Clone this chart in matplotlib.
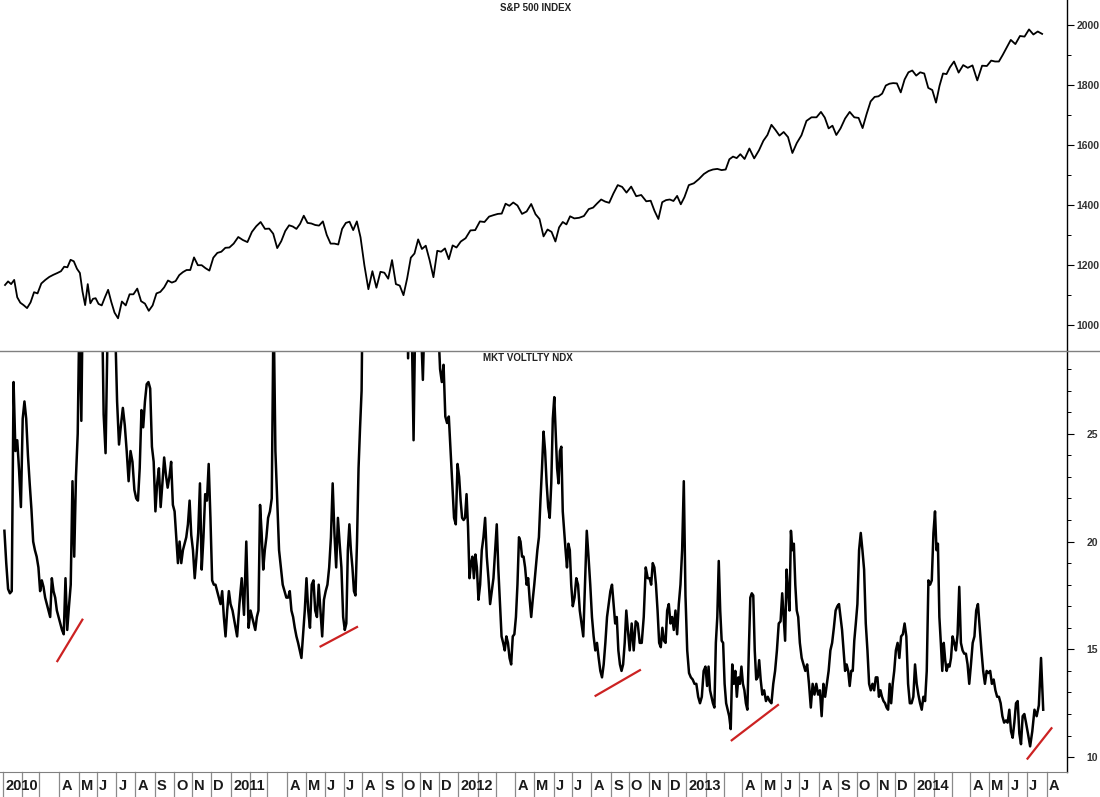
import numpy as np
import matplotlib
matplotlib.use("Agg")
import matplotlib.pyplot as plt
import matplotlib.transforms as mtransforms

# ---- data: one list per calendar month, Jan 2010 .. Jul 2014 ----
# S&P 500, weekly closes (plus a few intraday extremes)
spx_2010 = [[1133, 1145, 1136, 1150, 1092, 1074], [1066, 1056, 1075, 1109, 1105],
            [1138, 1150, 1160, 1167, 1173], [1179, 1194, 1192, 1217, 1212, 1187],
            [1173, 1111, 1066, 1136, 1072, 1087, 1089], [1070, 1065, 1092, 1117, 1076, 1041],
            [1022, 1078, 1065, 1102, 1102], [1121, 1079, 1071, 1047, 1065],
            [1105, 1110, 1125, 1148, 1141], [1146, 1166, 1176, 1183, 1183],
            [1225, 1199, 1199, 1189, 1181], [1224, 1240, 1244, 1257, 1258]]
spx_2011 = [[1271, 1293, 1283, 1276], [1310, 1329, 1343, 1320],
            [1321, 1304, 1256, 1279, 1313], [1332, 1328, 1320, 1337, 1364],
            [1340, 1338, 1333, 1331, 1345], [1300, 1271, 1271, 1268, 1320],
            [1340, 1344, 1316, 1345, 1292], [1199, 1119, 1179, 1124, 1177],
            [1174, 1154, 1216, 1136, 1131], [1099, 1155, 1224, 1238, 1285],
            [1253, 1264, 1216, 1159, 1247], [1244, 1255, 1219, 1265, 1258]]
spx_2012 = [[1278, 1289, 1315, 1316], [1345, 1343, 1361, 1366],
            [1370, 1371, 1404, 1397, 1408], [1398, 1370, 1378, 1403],
            [1369, 1353, 1295, 1318, 1310], [1278, 1325, 1343, 1335, 1362],
            [1355, 1357, 1363, 1386], [1391, 1405, 1418, 1411, 1407],
            [1438, 1466, 1460, 1441], [1461, 1429, 1433, 1412],
            [1414, 1380, 1353, 1409, 1416], [1418, 1413, 1430, 1402, 1426]]
spx_2013 = [[1466, 1472, 1486, 1503], [1513, 1518, 1520, 1516],
            [1518, 1552, 1561, 1556, 1569], [1553, 1588, 1555, 1582],
            [1614, 1633, 1667, 1650, 1631], [1643, 1626, 1573, 1606],
            [1632, 1680, 1692, 1692], [1710, 1691, 1655, 1664, 1633],
            [1655, 1688, 1710, 1692], [1690, 1656, 1703, 1745, 1760],
            [1762, 1771, 1798, 1804, 1806], [1805, 1775, 1818, 1842, 1848]]
spx_2014 = [[1831, 1842, 1838, 1790, 1783], [1741, 1797, 1838, 1836, 1859],
            [1878, 1841, 1866, 1857], [1865, 1815, 1864, 1863],
            [1881, 1878, 1878, 1900, 1924], [1950, 1936, 1963, 1961],
            [1985, 1968, 1978, 1970]]

# Nasdaq-100 volatility, several readings per month
vol_2010 = [[20.5, 19.0, 17.8, 17.6, 17.7, 27.4, 24.2, 24.7, 23.3, 21.6],
            [25.7, 26.5, 25.7, 24.0, 22.7, 21.5, 20.0, 19.6, 19.3, 18.8],
            [17.7, 18.2, 17.9, 17.4, 17.1, 16.8, 16.5, 18.3, 17.7, 17.4, 16.8, 16.5],
            [16.2, 15.9, 15.7, 18.3, 15.9, 17.0, 18.0, 22.8, 19.3, 23.0, 25.0],
            [31.0, 25.6, 33.0, 42.0, 45.0, 40.0, 36.0, 38.0, 34.0, 33.0],
            [33.0, 35.0, 32.0, 25.9, 24.1, 29.5, 32.0, 33.0, 31.0, 30.0],
            [26.5, 24.5, 25.4, 26.2, 25.4, 24.2, 22.8, 24.2, 23.7, 22.4],
            [22.0, 21.9, 23.4, 26.1, 25.3, 26.5, 27.3, 27.4, 27.1, 24.4, 23.7],
            [21.4, 22.7, 23.4, 21.6, 22.7, 23.9, 23.1, 22.5, 23.0, 23.7, 21.7],
            [21.4, 20.2, 19.0, 20.0, 19.0, 19.6, 19.9, 20.2, 20.8, 21.9, 20.3],
            [19.6, 18.3, 19.3, 20.4, 22.7, 18.7, 20.2, 22.2, 21.9, 23.6, 21.1],
            [18.2, 18.0, 18.0, 17.7, 17.4, 17.1, 17.7, 16.5, 15.6, 16.8, 17.7, 17.1]]
vol_2011 = [[16.8, 16.2, 15.6, 17.1, 18.3, 16.6, 20.0, 16.0],
            [16.8, 16.5, 16.2, 15.9, 16.5, 16.8, 21.7, 20.4, 18.7, 19.6, 20.2],
            [21.1, 21.4, 22.0, 31.0, 24.2, 21.9, 19.6, 18.8, 18.0, 17.7, 17.4],
            [17.4, 17.7, 16.8, 16.5, 16.0, 15.6, 15.3, 14.95, 14.6, 15.7, 16.8],
            [18.3, 16.8, 16.0, 18.0, 18.2, 16.8, 16.5, 18.0, 16.8, 15.6, 17.3],
            [17.7, 18.0, 18.8, 20.2, 22.7, 20.4, 18.8, 21.1, 19.9, 18.8, 16.5],
            [15.9, 16.2, 19.6, 20.8, 19.6, 18.8, 17.7, 17.5, 20.0, 23.4, 25.3, 27.0],
            [35.0, 40.0, 45.0, 42.0, 38.0, 40.0, 36.0, 38.0, 34.0, 33.0],
            [38.0, 36.0, 40.0, 38.0, 35.0, 37.0, 40.0, 42.0],
            [40.0, 38.0, 36.0, 28.5, 33.0, 30.0, 24.7, 31.0, 30.0, 32.0],
            [30.0, 27.5, 31.0, 33.0, 32.0, 34.0, 35.0, 33.0, 31.0, 30.0],
            [28.0, 27.4, 28.2, 25.8, 25.5, 25.8, 24.2, 22.7, 21.1, 20.8, 23.6]]
vol_2012 = [[23.0, 21.9, 21.1, 21.0, 21.1, 22.2, 20.7, 18.3, 19.0, 19.3, 18.3, 19.4, 18.8],
            [17.3, 18.0, 19.6, 20.2, 21.1, 19.3, 18.3, 17.1, 17.7, 18.3, 19.6],
            [20.8, 18.7, 17.1, 15.6, 15.3, 14.95, 15.6, 15.3, 14.6, 14.3, 15.6, 15.7],
            [16.5, 18.0, 20.2, 20.0, 19.3, 19.3, 18.8, 18.0, 18.3, 17.3, 16.5, 17.3],
            [18.0, 18.8, 19.6, 20.2, 21.9, 23.4, 25.1, 24.2, 22.7, 21.6, 21.1, 22.7, 25.7],
            [26.7, 25.1, 23.4, 22.7, 24.2, 24.4, 21.4, 20.5, 19.6, 18.8, 19.9, 19.6, 18.0],
            [17.0, 17.4, 18.3, 18.0, 16.8, 16.2, 15.6, 18.0, 20.5, 19.3, 18.0],
            [16.5, 15.6, 14.95, 15.3, 14.6, 14.0, 13.7, 14.3, 15.3, 16.5, 17.1, 17.7],
            [18.0, 17.1, 16.2, 16.5, 14.95, 14.3, 14.0, 14.3, 15.3, 16.8, 15.9],
            [14.95, 16.2, 14.95, 16.3, 16.2, 15.3, 15.3, 16.5, 18.8, 18.3],
            [18.3, 18.0, 19.0, 18.8, 18.0, 16.8, 15.3, 15.1, 16.0, 15.4, 15.3, 16.8],
            [17.1, 16.2, 16.5, 15.9, 16.8, 15.7, 17.1, 18.0, 19.6, 22.8, 17.5]]
vol_2013 = [[14.95, 13.9, 13.7, 13.6, 13.4, 13.4, 12.8, 12.5, 12.8, 14.0, 14.2],
            [13.3, 14.2, 13.1, 12.8, 12.5, 12.3, 15.3, 16.5, 19.1, 16.8, 15.4, 15.3],
            [13.4, 12.5, 12.2, 11.9, 11.3, 14.3, 13.4, 14.0, 12.8, 13.7, 13.4, 14.2],
            [13.4, 13.1, 12.5, 12.2, 14.95, 17.4, 17.6, 17.5, 14.95, 13.6, 13.7, 14.5, 13.6],
            [12.9, 13.1, 12.6, 12.8, 12.6, 12.5, 13.4, 14.0, 14.95, 16.2, 16.3],
            [17.6, 16.5, 15.4, 18.7, 17.7, 16.8, 20.5, 19.6, 19.9, 18.0, 16.8, 16.5],
            [15.3, 14.6, 14.3, 14.0, 14.3, 13.4, 12.3, 13.4, 12.9, 13.4, 12.9],
            [13.1, 11.9, 13.4, 12.8, 13.4, 14.0, 14.95, 15.3, 16.0, 16.8, 17.0],
            [17.1, 16.5, 15.9, 14.95, 14.0, 14.3, 14.0, 13.3, 14.0, 14.0, 15.4, 16.2],
            [17.1, 19.6, 20.4, 19.6, 18.7, 16.2, 14.95, 13.4, 13.1, 13.4, 13.1, 13.7],
            [13.7, 12.8, 13.1, 12.8, 12.6, 12.5, 12.3, 12.2, 13.4, 12.5, 13.4, 14.0],
            [14.95, 15.3, 14.6, 15.6, 15.7, 16.2, 15.6, 13.4, 12.5, 12.5, 12.8]]
vol_2014 = [[14.3, 13.4, 12.9, 12.5, 12.2, 12.8, 12.6, 14.0, 18.2, 18.0, 18.2, 20.4],
            [21.4, 19.6, 19.9, 16.5, 15.3, 14.0, 15.3, 14.5, 14.0, 14.3, 14.2, 14.6],
            [15.6, 15.3, 14.95, 15.7, 17.9, 15.3, 14.95, 14.8, 14.8, 14.3, 13.4],
            [14.3, 15.3, 15.6, 16.8, 17.1, 16.0, 14.95, 14.0, 13.4, 14.0, 13.9],
            [14.0, 13.4, 13.6, 13.1, 12.8, 12.8, 12.5, 11.9, 11.6, 11.7, 11.6],
            [12.2, 11.2, 10.9, 11.6, 12.5, 12.6, 11.1, 10.6, 11.9, 12.0, 11.6],
            [11.1, 10.5, 11.2, 12.2, 11.9, 12.4, 14.6, 12.2]]

# red support lines drawn on the volatility panel
trend_starts = ['2010-03-29', '2011-05-24', '2012-08-07', '2013-03-13', '2014-07-01']
trend_start_vals = [14.41, 15.11, 12.82, 10.75, 9.89]
trend_ends = ['2010-05-10', '2011-07-25', '2012-10-19', '2013-05-29', '2014-08-11']
trend_end_vals = [16.42, 16.06, 14.06, 12.45, 11.38]

years = ['2010', '2011', '2012', '2013', '2014']
month_letters = ['', '', '', 'A', 'M', 'J', 'J', 'A', 'S', 'O', 'N', 'D']
first_day = '2010-01-01'
last_day = '2014-07-29'
axis_start, axis_end = '2009-12-28', '2014-09-03'

# x axis counts trading (week) days, like the original charting package
months = np.arange('2010-01', '2014-09', dtype='datetime64[M]')
month_x = np.busday_count(first_day, months.astype('datetime64[D]'))


def bday(d):
    return np.busday_count(first_day, np.datetime64(d, 'D'))


def spread(groups):
    xs, ys = [], []
    for i, vals in enumerate(groups):
        x0 = month_x[i]
        x1 = bday(last_day) if i == len(groups) - 1 else month_x[i + 1]
        for k, v in enumerate(vals):
            xs.append(x0 + (x1 - x0) * (k + 0.5) / len(vals))
            ys.append(v)
    return np.array(xs), np.array(ys)


spx_x, spx_y = spread(spx_2010 + spx_2011 + spx_2012 + spx_2013 + spx_2014)
vol_x, vol_y = spread(vol_2010 + vol_2011 + vol_2012 + vol_2013 + vol_2014)

W, H = 1100, 797
fig = plt.figure(figsize=(W / 100, H / 100), dpi=100)
plt.rcParams['font.family'] = ['Liberation Sans', 'DejaVu Sans']


def px_axes(x0, y0, x1, y1):
    return fig.add_axes([x0 / W, 1 - y1 / H, (x1 - x0) / W, (y1 - y0) / H])


ax1 = px_axes(0, 0, 1067, 351)
ax2 = px_axes(0, 351, 1067, 772)

for ax in (ax1, ax2):
    ax.set_xlim(bday(axis_start), bday(axis_end))
    ax.set_xticks([])
    ax.yaxis.tick_right()
    for side in ('left', 'top'):
        ax.spines[side].set_visible(False)
    ax.spines['right'].set_color('black')
    ax.spines['right'].set_linewidth(1.0)
    ax.tick_params(axis='y', which='major', length=5, width=0.8, pad=2,
                   labelsize=7.5, labelcolor='#333333')
    ax.tick_params(axis='y', which='minor', length=3, width=0.7)

ax1.spines['bottom'].set_visible(False)
ax2.spines['bottom'].set_color('#808080')

# top panel: S&P 500
ax1.plot(spx_x, spx_y, color='black', lw=1.3)
ax1.set_ylim(913, 2083)
ax1.set_yticks(np.arange(1000, 2001, 200))
ax1.set_yticks(np.arange(1100, 2001, 200), minor=True)
ax1.set_yticklabels([str(v) for v in range(1000, 2001, 200)], fontweight='bold')
ax1.text(0.5015, 0.977, 'S&P 500 INDEX', transform=ax1.transAxes, ha='center', va='center',
         fontsize=7, fontweight='bold', color='#222222')

# bottom panel: volatility index
ax2.plot(vol_x, vol_y, color='black', lw=1.8)
for s, sv, e, ev in zip(trend_starts, trend_start_vals, trend_ends, trend_end_vals):
    ax2.plot([bday(s), bday(e)], [sv, ev], color='#cc2222', lw=1.6, solid_capstyle='butt')
ax2.set_ylim(9.31, 28.84)
ax2.set_yticks([10, 15, 20, 25])
ax2.set_yticks(np.arange(10, 29, 1), minor=True)
ax2.set_yticklabels(['10', '15', '20', '25'], fontweight='bold')
ax2.tick_params(axis='y', which='major', pad=9)
ax2.text(0.495, 0.984, 'MKT VOLTLTY NDX', transform=ax2.transAxes, ha='center', va='center',
         fontsize=7, fontweight='bold', color='#222222')

# divider between panels across the full width
fig.add_artist(plt.Line2D([0, 1], [1 - 351 / H, 1 - 351 / H], color='#808080', lw=1.0))

# month boxes under the lower panel
trans = mtransforms.blended_transform_factory(ax2.transData, fig.transFigure)
y_top = 1 - 772 / H
for i, mx in enumerate(month_x):
    ax2.plot([mx, mx], [y_top, 0], transform=trans, color='#8a8a8a', lw=0.9, clip_on=False)
    label = years[i // 12] if i % 12 == 0 else month_letters[i % 12]
    if label:
        ax2.text(mx + 2.5, 1 - 786 / H, label, transform=trans, ha='left', va='center',
                 fontsize=10.5, fontweight='bold', color='#1a1a1a', clip_on=False)

fig.savefig('out.png', dpi=100)
